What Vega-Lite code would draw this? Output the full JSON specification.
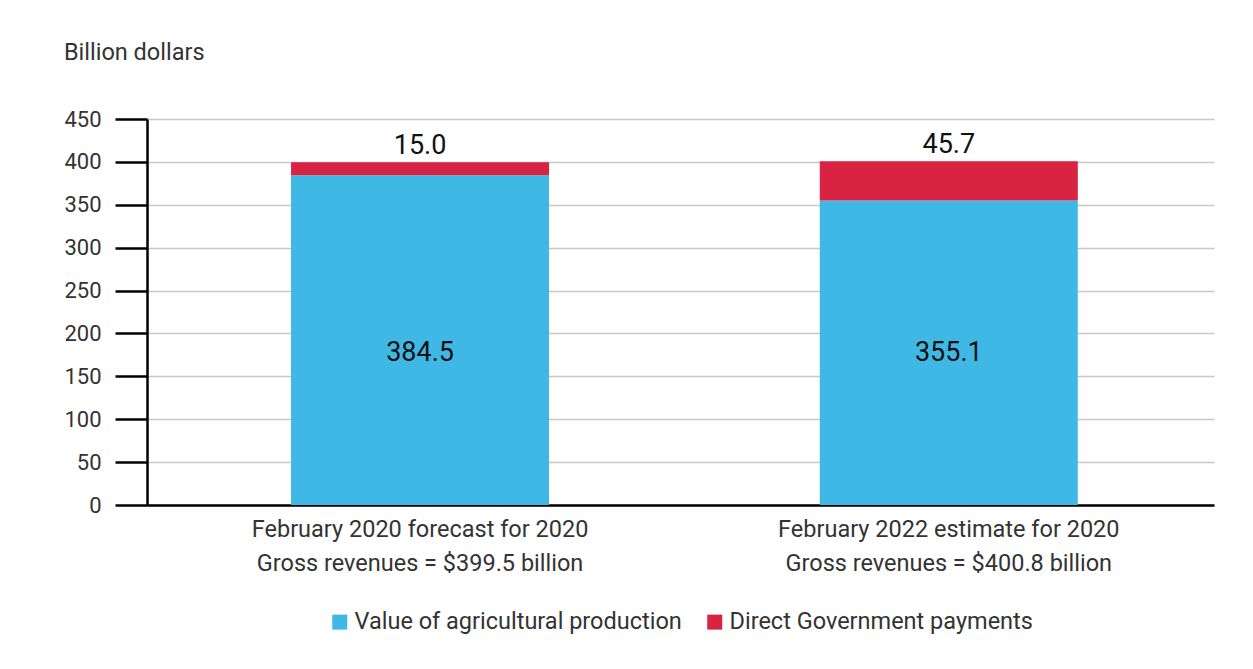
{
  "$schema": "https://vega.github.io/schema/vega-lite/v6.json",
  "width": 1067,
  "height": 386,
  "autosize": {"type": "pad"},
  "padding": {"left": 63, "top": 40, "right": 39, "bottom": 37},
  "background": "white",
  "title": {
    "text": "Billion dollars",
    "anchor": "start",
    "frame": "bounds",
    "fontSize": 23.5,
    "font": "Roboto",
    "fontWeight": "normal",
    "color": "#333333",
    "offset": 44
  },
  "data": {
    "values": [
      {"estimate": "February 2020 forecast for 2020|Gross revenues = $399.5 billion", "component": "Value of agricultural production", "value": 384.5, "order": 1},
      {"estimate": "February 2020 forecast for 2020|Gross revenues = $399.5 billion", "component": "Direct Government payments", "value": 15.0, "order": 2},
      {"estimate": "February 2022 estimate for 2020|Gross revenues = $400.8 billion", "component": "Value of agricultural production", "value": 355.1, "order": 1},
      {"estimate": "February 2022 estimate for 2020|Gross revenues = $400.8 billion", "component": "Direct Government payments", "value": 45.7, "order": 2}
    ]
  },
  "encoding": {
    "x": {
      "field": "estimate",
      "type": "nominal",
      "sort": null,
      "scale": {"paddingInner": 0.512, "paddingOuter": 0.265, "align": 0.514},
      "axis": {
        "title": null,
        "labelAngle": 0,
        "labelExpr": "split(datum.label, '|')",
        "labelFontSize": 23.5,
        "labelLineHeight": 34,
        "labelPadding": 12,
        "labelColor": "#333333",
        "labelFont": "Roboto",
        "ticks": false,
        "domainColor": "#000000",
        "domainWidth": 2.5,
        "labelLimit": 500
      }
    }
  },
  "layer": [
    {
      "mark": {"type": "bar"},
      "encoding": {
        "y": {
          "field": "value",
          "type": "quantitative",
          "stack": "zero",
          "scale": {"domain": [0, 450], "nice": false},
          "axis": {
            "title": null,
            "values": [0, 50, 100, 150, 200, 250, 300, 350, 400, 450],
            "tickSize": 32,
            "tickWidth": 2.5,
            "tickColor": "#000000",
            "domainColor": "#000000",
            "domainWidth": 2.5,
            "labelPadding": 14,
            "labelFontSize": 22,
            "labelFont": "Roboto",
            "labelColor": "#333333",
            "grid": true,
            "gridColor": "#c8c8c8",
            "gridWidth": 1.5
          }
        },
        "color": {
          "field": "component",
          "type": "nominal",
          "scale": {
            "domain": ["Value of agricultural production", "Direct Government payments"],
            "range": ["#3fb8e6", "#d92342"]
          },
          "legend": {
            "title": null,
            "orient": "bottom",
            "direction": "horizontal",
            "symbolType": "square",
            "symbolSize": 225,
            "symbolStrokeWidth": 0,
            "labelFontSize": 23.5,
            "labelFont": "Roboto",
            "labelColor": "#333333",
            "labelLimit": 500,
            "columnPadding": 21,
            "labelOffset": 3,
            "offset": 35
          }
        },
        "order": {"field": "order", "type": "quantitative"}
      }
    },
    {
      "transform": [{"filter": "datum.component === 'Value of agricultural production'"}],
      "mark": {"type": "text", "fontSize": 27, "font": "Roboto", "color": "#111111", "baseline": "alphabetic"},
      "encoding": {
        "y": {"datum": 168},
        "text": {"field": "value", "type": "quantitative", "format": ".1f"}
      }
    },
    {
      "transform": [
        {"joinaggregate": [{"op": "sum", "field": "value", "as": "total"}], "groupby": ["estimate"]},
        {"filter": "datum.component === 'Direct Government payments'"}
      ],
      "mark": {"type": "text", "fontSize": 27, "font": "Roboto", "color": "#111111", "baseline": "alphabetic", "dy": -8},
      "encoding": {
        "y": {"field": "total", "type": "quantitative"},
        "text": {"field": "value", "type": "quantitative", "format": ".1f"}
      }
    }
  ],
  "config": {
    "view": {"stroke": null},
    "legend": {"layout": {"bottom": {"anchor": "middle"}}}
  }
}
